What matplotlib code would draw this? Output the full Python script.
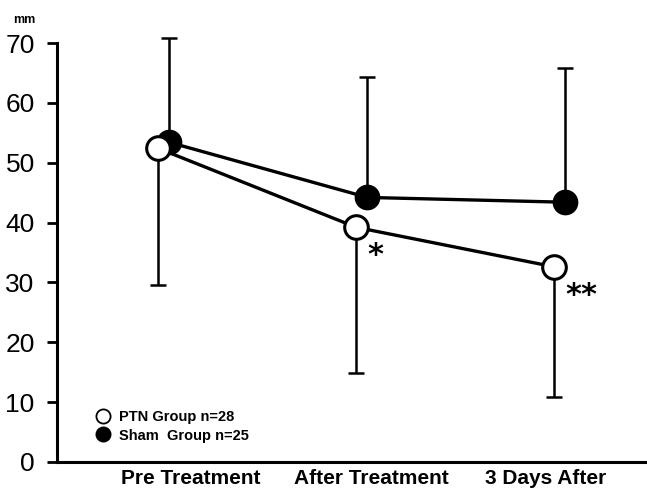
import matplotlib
matplotlib.use("Agg")
import matplotlib.pyplot as plt

categories = ["Pre Treatment", "After Treatment", "3 Days After"]
ptn_mean = [52.4, 39.2, 32.6]
ptn_sd = [22.9, 24.3, 21.7]
sham_mean = [53.4, 44.2, 43.4]
sham_sd = [17.5, 20.2, 22.4]
ptn_label = "PTN Group n=28"
sham_label = "Sham  Group n=25"
significance = ["", "*", "**"]

plt.rcParams['font.family'] = ['Liberation Sans', 'DejaVu Sans']

fig = plt.figure(figsize=(6.47, 4.92), dpi=100)
ax = fig.add_axes([0.088, 0.061, 0.912, 0.8516])

x = list(range(len(categories)))
off = 0.028
xp = [v - off for v in x]
xs = [v + off for v in x]

# Sham: upward error bars, filled circles
eb1 = ax.errorbar(xs, sham_mean, yerr=[[0]*3, sham_sd], fmt='none', ecolor='black',
                  elinewidth=1.8, capsize=6, capthick=1.8, zorder=2)
ax.plot(xs, sham_mean, color='black', lw=2.4, marker='o', ms=17,
        mfc='black', mec='black', mew=1.5, zorder=4, label=sham_label)
# PTN: downward error bars, open circles
eb2 = ax.errorbar(xp, ptn_mean, yerr=[ptn_sd, [0]*3], fmt='none', ecolor='black',
                  elinewidth=1.8, capsize=6, capthick=1.8, zorder=2)
ax.plot(xp, ptn_mean, color='black', lw=2.4, marker='o', ms=17,
        mfc='white', mec='black', mew=2.2, zorder=5, label=ptn_label)
for eb in (eb1, eb2):
    for art in eb.lines[1] + eb.lines[2]:
        art.set_clip_on(False)
    for art in eb.lines[2]:
        art.set_clip_on(False)

for xi, yi, s in zip(xp, ptn_mean, significance):
    if s:
        ax.annotate(s, (xi, yi), xytext=(8, -31), textcoords='offset points',
                    ha='left', va='bottom', fontsize=22, fontweight='bold',
                    family='DejaVu Sans')

ax.set_ylim(0, 70)
ax.set_xlim(-0.54, 2.44)
ax.set_yticks(range(0, 71, 10))
ax.tick_params(axis='y', length=7, width=2, labelsize=19, pad=9, direction='out')
ax.set_xticks([0.136, 1.05, 1.93])
ax.set_xticklabels(categories, fontsize=15, fontweight='bold')
ax.tick_params(axis='x', length=0, pad=5)
for s in ['top', 'right']:
    ax.spines[s].set_visible(False)
ax.spines['left'].set_linewidth(2.2)
ax.spines['bottom'].set_linewidth(2.2)

fig.text(0.02, 0.96, "mm", fontsize=9, fontweight='bold', ha='left', va='center')

handles, labels = ax.get_legend_handles_labels()
leg = ax.legend(handles[::-1], labels[::-1], loc='lower left', bbox_to_anchor=(0.055, 0.015),
                frameon=False, handlelength=0, handletextpad=1.1, labelspacing=0.3,
                prop={'size': 10.5, 'weight': 'bold'}, markerscale=0.6)
for h in leg.legend_handles:
    h.set_linestyle('none')
    h.set_markeredgewidth(1.3)

fig.savefig("out.png", dpi=100)
